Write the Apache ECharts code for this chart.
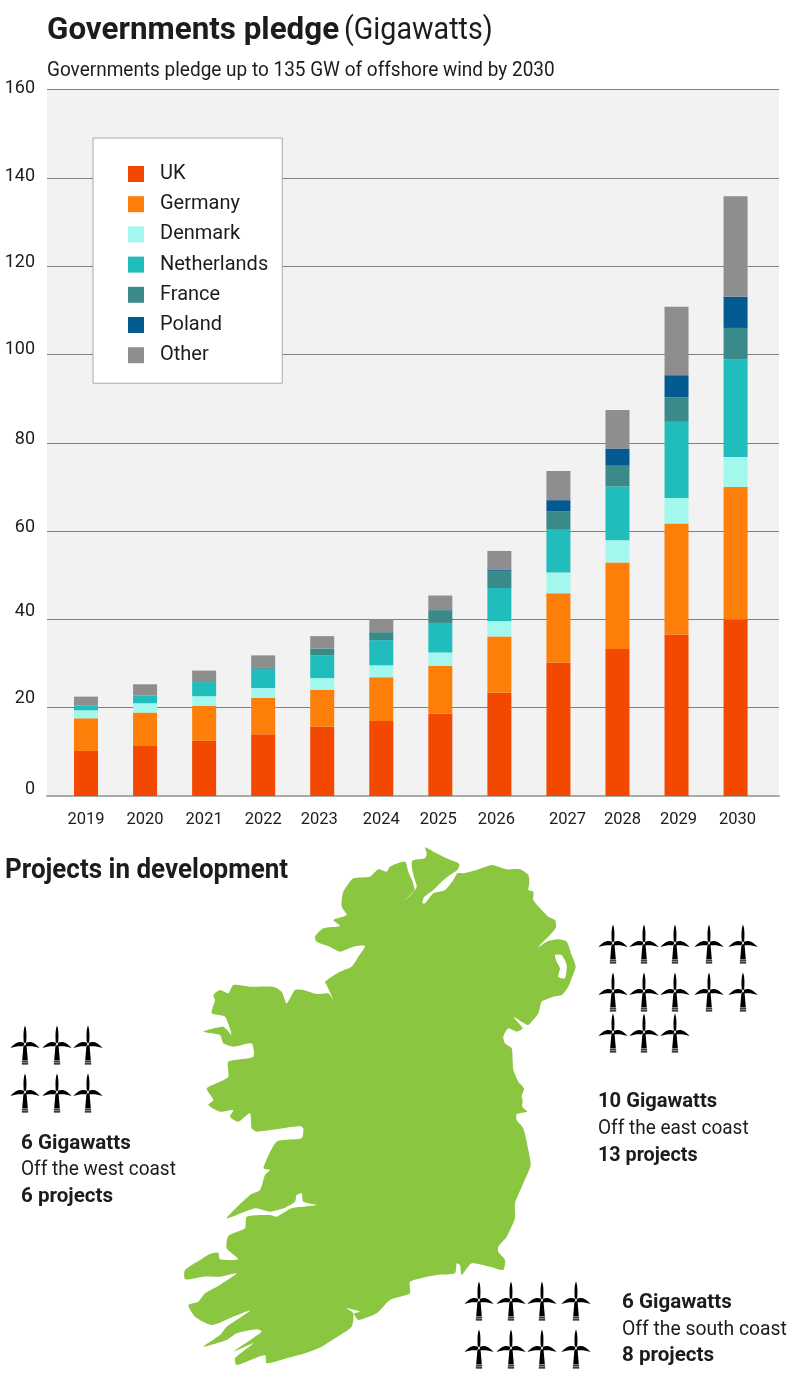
<!DOCTYPE html>
<html><head><meta charset="utf-8">
<script src="https://cdn.jsdelivr.net/npm/echarts@6/dist/echarts.min.js"></script>
<style>html,body{margin:0;padding:0;background:#fff}#c{width:800px;height:1392px}</style>
</head><body><div id="c"></div>
<script>
const years=['2019','2020','2021','2022','2023','2024','2025','2026','2027','2028','2029','2030'];
const uk=[10.2,11.3,12.5,14.0,15.7,17,18.7,23.4,30.2,33.3,36.6,40];
const germany=[7.4,7.6,7.9,8.2,8.3,9.9,10.8,12.75,15.7,19.6,25.1,30];
const denmark=[1.8,2.1,2.2,2.25,2.7,2.7,3,3.45,4.7,5,5.8,6.75];
const netherlands=[1.05,1.8,3.2,4.35,5.2,5.7,6.7,7.5,9.85,12.2,17.25,22.15];
const france=[0,0,0,0.2,1.5,1.8,2.9,3.9,4.05,4.7,5.55,7.1];
const poland=[0,0,0,0,0,0,0,0.3,2.5,3.9,5,7.1];
const other=[2.05,2.5,2.6,2.85,2.8,2.8,3.3,4.2,6.6,8.7,15.5,22.75];
const FONT='Roboto,sans-serif';
const INK='#1c1c1c';
const seriesDefs=[['UK',uk,'#f24800'],['Germany',germany,'#fd7f0a'],['Denmark',denmark,'#a3f8ee'],['Netherlands',netherlands,'#21bcbc'],['France',france,'#3a8a8a'],['Poland',poland,'#025a91'],['Other',other,'#8e8e8e']];
// hand-set label nudges in the original
const xNudge={2023:-3,2025:-2,2026:-3,2027:9,2028:5,2029:2,2030:2};
const yNudge={160:1,140:1,120:4,100:5,80:3,60:4,40:8,20:9.5,0:7};
// Map outline
const outlineA=[[765,22],[790,35],[830,55],[868,72],[862,90],[840,105],[815,125],[790,150],[762,172],[757,190],[765,190],[790,160],[825,150],[850,120],[862,100],[880,100],[920,90],[965,75],[1010,88],[1050,88],[1075,105],[1078,130],[1075,150],[1090,155],[1090,180],[1110,205],[1135,230],[1155,240],[1158,262],[1140,285],[1110,315],[1105,322],[1130,305],[1165,298],[1190,305],[1205,345],[1217,380],[1205,415],[1195,440],[1175,465],[1150,470],[1115,485],[1105,520],[1075,555],[1060,548],[1030,530],[1058,565],[1040,575],[1015,565],[1000,590],[1005,610],[1025,625],[1028,660],[1030,690],[1045,725],[1062,745],[1055,770],[1058,780]];
const outlineB=[[1057,20],[1072,35],[1040,42],[1040,60],[1060,85],[1075,150],[1082,195],[1060,250],[1035,310],[1035,355],[1010,410],[985,440],[985,455],[1005,480],[1000,510],[960,500],[905,490],[875,525],[870,495],[860,490],[855,520],[800,525],[720,545],[720,580],[660,600],[620,640],[565,660],[552,640],[570,635],[530,625],[550,640],[545,680],[495,715],[455,740],[405,760],[350,775],[290,790],[285,765],[200,795],[195,775],[250,730],[190,755],[275,695],[260,688],[200,700],[170,720],[100,740],[150,705],[170,680],[240,632],[190,650],[125,675],[75,650],[55,615],[85,605],[105,580],[150,555],[200,520],[150,530],[100,530],[45,538],[45,510],[90,480],[120,462],[145,458],[150,478],[205,478],[170,445],[175,408],[225,385],[230,350],[300,345],[320,350],[365,325],[440,315],[400,305],[395,280],[380,285],[375,305],[340,325],[300,335],[255,325],[170,355],[240,285],[270,270],[285,225],[300,210],[280,205],[320,125],[395,115],[400,85],[390,78],[260,95],[245,85],[240,40],[205,65],[180,50],[190,30],[150,35],[115,15],[130,0]];
const outlineC=[[110,745],[150,725],[175,710],[175,665],[250,650],[245,610],[190,620],[160,610],[150,585],[100,575],[160,560],[185,585],[165,530],[125,520],[135,480],[130,465],[150,450],[175,460],[190,435],[240,440],[310,440],[335,455],[350,490],[375,450],[400,450],[440,462],[475,460],[490,480],[470,435],[465,425],[510,395],[545,380],[565,350],[585,318],[550,320],[510,335],[480,320],[440,305],[435,290],[460,265],[510,258],[490,240],[530,225],[515,200],[515,180],[520,155],[550,115],[600,110],[625,88],[650,95],[660,80],[705,65],[715,95],[728,125],[733,150],[700,185],[722,165],[740,140],[733,115],[726,85],[727,62],[765,55],[770,40]];
const strangford=[[1155,345],[1175,345],[1190,375],[1185,415],[1165,410],[1170,385],[1160,365]];
const fromNorth=p=>[170+p[0]/3,840+p[1]/3];
const fromSouth=p=>[170+p[0]/3,1100+p[1]/3];
const irelandPoints=[...outlineA.map(fromNorth),...outlineB.map(fromSouth),...outlineC.map(fromNorth)];
// Turbine pictograms
const turbinesEast=[[613,944],[644,944],[675,944],[709,944],[743,944],[613,992],[644,992],[675,992],[709,992],[743,992],[613,1033],[644,1033],[675,1033]];
const turbinesWest=[[25,1045],[57,1045],[88,1045],[25,1093],[57,1093],[88,1093]];
const turbinesSouth=[[479,1301],[511,1301],[542,1301],[576,1301],[479,1349],[511,1349],[542,1349],[576,1349]];
const turbineIcon='path://M43.5 0C48 10 49 30 47 52L40 52C38 30 39 10 43.5 0ZM46 53C60 44 76 54 87 68C72 62 60 62 46 63ZM41 53C27 44 11 54 0 68C15 62 27 62 41 63ZM39 60L48 60L52 106L35 106ZM34 108H53V112H34ZM34 114H53V118H34Z';
const texts=[
 {t:'Governments pledge',x:47,y:31,s:32,b:1,k:0.98},
 {t:'(Gigawatts)',x:344,y:31,s:31,b:0,k:0.925},
 {t:'Governments pledge up to 135 GW of offshore wind by 2030',x:47,y:71,s:21,b:0,k:0.904},
 {t:'Projects in development',x:5,y:871,s:27,b:1,k:0.963},
 {t:'6 Gigawatts',x:21,y:1144,s:21,b:1,k:0.98},
 {t:'Off the west coast',x:21,y:1170,s:21,b:0,k:0.906},
 {t:'6 projects',x:21,y:1197,s:21,b:1,k:0.98},
 {t:'10 Gigawatts',x:598,y:1102,s:21,b:1,k:0.96},
 {t:'Off the east coast',x:598,y:1129,s:21,b:0,k:0.904},
 {t:'13 projects',x:598,y:1156,s:21,b:1,k:0.94},
 {t:'6 Gigawatts',x:622,y:1303,s:21,b:1,k:0.98},
 {t:'Off the south coast',x:622,y:1330,s:21,b:0,k:0.92},
 {t:'8 projects',x:622,y:1356,s:21,b:1,k:0.98}
];
const chart=echarts.init(document.getElementById('c'),null,{renderer:'canvas'});
const xRich={d:{fontFamily:FONT,fontSize:16.5,color:INK}};
Object.keys(xNudge).forEach(k=>{const n=xNudge[k];xRich['y'+k]={fontFamily:FONT,fontSize:16.5,color:INK,padding:n>0?[0,0,0,2*n]:[0,-2*n,0,0]};});
const yRich={};
Object.keys(yNudge).forEach(k=>{yRich['tick'+k+'x']={fontFamily:FONT,fontSize:18,color:INK,padding:[0,0,2*yNudge[k],0]};});
chart.setOption({
 animation:false,
 grid:[
  {left:47,top:89.5,width:732,height:706.5,show:true,backgroundColor:'#f2f2f2',borderWidth:0},
  {left:56.5,top:89.5,width:708.6,height:706.5},
  {left:0,top:0,width:800,height:1392}
 ],
 xAxis:[
  {gridIndex:0,type:'value',min:0,max:1,axisLine:{show:true,lineStyle:{color:'#aaaaaa',width:2}},axisTick:{show:false},axisLabel:{show:false},splitLine:{show:false}},
  {gridIndex:1,type:'category',data:years,axisLine:{show:false},axisTick:{show:false},
   axisLabel:{margin:15,interval:0,formatter:v=>xNudge[v]!==undefined?`{y${v}|${v}}`:`{d|${v}}`,rich:xRich}},
  {gridIndex:2,type:'value',min:0,max:800,show:false}
 ],
 yAxis:[
  {gridIndex:0,type:'value',min:0,max:160,interval:20,axisLine:{show:false},axisTick:{show:false},
   axisLabel:{margin:12,formatter:v=>`{tick${Math.round(v)}x|${Math.round(v)}}`,rich:yRich},
   splitLine:{show:true,lineStyle:{color:'#808080',width:1}}},
  {gridIndex:1,type:'value',min:0,max:160,show:false,splitLine:{show:false}},
  {gridIndex:2,type:'value',min:0,max:1392,inverse:true,show:false}
 ],
 legend:{
  left:93,top:138,orient:'vertical',data:seriesDefs.map(d=>d[0]),icon:'rect',itemWidth:16,itemHeight:16,itemGap:8.2,
  padding:[25,14,17,35],backgroundColor:'#fff',borderColor:'#aaaaaa',borderWidth:1,
  textStyle:{fontFamily:FONT,fontSize:20,color:INK,padding:[0,0,0,11],height:22,lineHeight:22}
 },
 series:[
  ...seriesDefs.map(d=>({name:d[0],type:'bar',stack:'a',xAxisIndex:1,yAxisIndex:1,barWidth:24,data:d[1],itemStyle:{color:d[2]},emphasis:{disabled:true}})),
  ...[turbinesEast,turbinesWest,turbinesSouth].map(t=>({type:'scatter',xAxisIndex:2,yAxisIndex:2,data:t,symbol:turbineIcon,symbolSize:[29,39],itemStyle:{color:'#000',opacity:1},silent:true}))
 ],
 graphic:[
  {type:'polygon',silent:true,z:1,shape:{points:irelandPoints,smooth:0.2},style:{fill:'#8ac63f'}},
  {type:'polygon',silent:true,z:2,shape:{points:strangford.map(fromNorth),smooth:0.2},style:{fill:'#fff'}},
  ...texts.map(o=>({type:'text',silent:true,z:5,x:o.x,y:o.y,scaleX:o.k,style:{x:0,y:0,text:o.t,fill:INK,align:'left',verticalAlign:'middle',font:`${o.b?'bold ':''}${o.s}px ${FONT}`}}))
 ]
});
</script></body></html>
